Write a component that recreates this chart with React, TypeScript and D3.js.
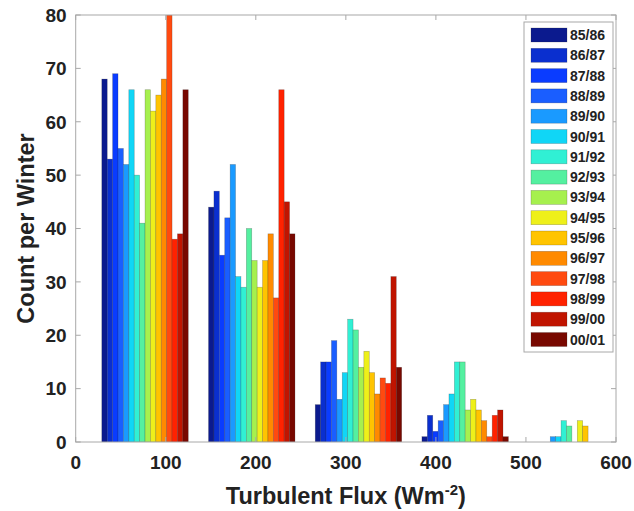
import React from "react";
import * as d3 from "d3";

const seasons = ["85/86","86/87","87/88","88/89","89/90","90/91","91/92","92/93","93/94","94/95","95/96","96/97","97/98","98/99","99/00","00/01"];
const seasonColors = ["#0b1a8e","#0a2fcf","#0a3cff","#1a5eff","#1a9aff","#10d6f6","#30f0d4","#54f0a0","#a6f04e","#eef01a","#ffc400","#ff8a00","#ff4a10","#ff2200","#c01400","#780800"];
const binCenters = [77, 195.5, 314, 432.5, 551];
const bin1Counts = [68,53,69,55,52,66,50,41,66,62,65,68,80,38,39,66];
const bin2Counts = [44,47,35,42,52,31,29,40,34,29,34,39,27,66,45,39];
const bin3Counts = [7,15,15,19,8,13,23,21,14,17,13,9,12,11,31,14];
const bin4Counts = [1,5,2,4,7,9,15,15,6,8,6,4,1,5,6,1];
const bin5Counts = [0,0,0,0,1,1,4,3,0,4,3,0,0,0,0,0];
const allCounts = [bin1Counts, bin2Counts, bin3Counts, bin4Counts, bin5Counts];
const xTicks = [0,100,200,300,400,500,600];
const yTicks = [0,10,20,30,40,50,60,70,80];

const W = 634, H = 511;
const L = 75.7, R = 616, T = 15, B = 442;
const barWidth = 6;
const groupWidth = barWidth * seasons.length;

export default function App() {
  const x = d3.scaleLinear().domain([0, 600]).range([L, R]);
  const y = d3.scaleLinear().domain([0, 80]).range([B, T]);
  const font = "'Liberation Sans', Arial, Helvetica, sans-serif";
  const axisColor = "#a8a8a8";
  const legX = 524, legY = 22, legW = 89, legH = 330;
  const rowH = 20.3;

  const bars: React.ReactNode[] = [];
  allCounts.forEach((counts, j) => {
    counts.forEach((v, i) => {
      if (v <= 0) return;
      const x0 = binCenters[j] - groupWidth / 2 + i * barWidth;
      bars.push(
        <rect key={`b${j}-${i}`} x={x(x0)} y={y(v)} width={x(x0 + barWidth) - x(x0)} height={y(0) - y(v)}
          fill={seasonColors[i]} stroke="rgba(40,40,40,0.35)" strokeWidth={0.6} />
      );
    });
  });

  return (
    <svg width={W} height={H} style={{ position: "absolute", left: 0, top: 0, background: "#fff" }}>
      <defs>
        <clipPath id="plotclip"><rect x={L} y={T} width={R - L} height={B - T} /></clipPath>
      </defs>
      <rect x={0} y={0} width={W} height={H} fill="#fff" />
      <g clipPath="url(#plotclip)">{bars}</g>
      <rect x={L} y={T} width={R - L} height={B - T} fill="none" stroke={axisColor} strokeWidth={1} />
      {yTicks.map(t => (
        <g key={`y${t}`}>
          <line x1={L} x2={L + 5} y1={y(t)} y2={y(t)} stroke={axisColor} />
          <line x1={R} x2={R - 5} y1={y(t)} y2={y(t)} stroke={axisColor} />
          <text x={L - 9} y={y(t)} dy="0.36em" textAnchor="end" fontFamily={font} fontWeight="bold" fontSize={19} fill="#222">{t}</text>
        </g>
      ))}
      {xTicks.map(t => (
        <g key={`x${t}`}>
          <line x1={x(t)} x2={x(t)} y1={B} y2={B - 5} stroke={axisColor} />
          <line x1={x(t)} x2={x(t)} y1={T} y2={T + 5} stroke={axisColor} />
          <text x={x(t)} y={B + 27} textAnchor="middle" fontFamily={font} fontWeight="bold" fontSize={19} fill="#222">{t}</text>
        </g>
      ))}
      <text transform={`translate(34,${(T + B) / 2}) rotate(-90)`} textAnchor="middle" fontFamily={font} fontWeight="bold" fontSize={23.5} fill="#222">Count per Winter</text>
      <text x={(L + R) / 2} y={504} textAnchor="middle" fontFamily={font} fontWeight="bold" fontSize={23.5} fill="#222">
        Turbulent Flux (Wm<tspan dy={-9} fontSize={15}>-2</tspan><tspan dy={9}>)</tspan>
      </text>
      <rect x={legX} y={legY} width={legW} height={legH} fill="#fff" stroke={axisColor} />
      {seasons.map((s, i) => (
        <g key={`l${i}`}>
          <rect x={531} y={legY + 6 + i * rowH} width={36} height={14} fill={seasonColors[i]} stroke="rgba(40,40,40,0.35)" strokeWidth={0.6} />
          <text x={570} y={legY + 13 + i * rowH} dy="0.36em" fontFamily={font} fontWeight="bold" fontSize={14} fill="#222">{s}</text>
        </g>
      ))}
    </svg>
  );
}
